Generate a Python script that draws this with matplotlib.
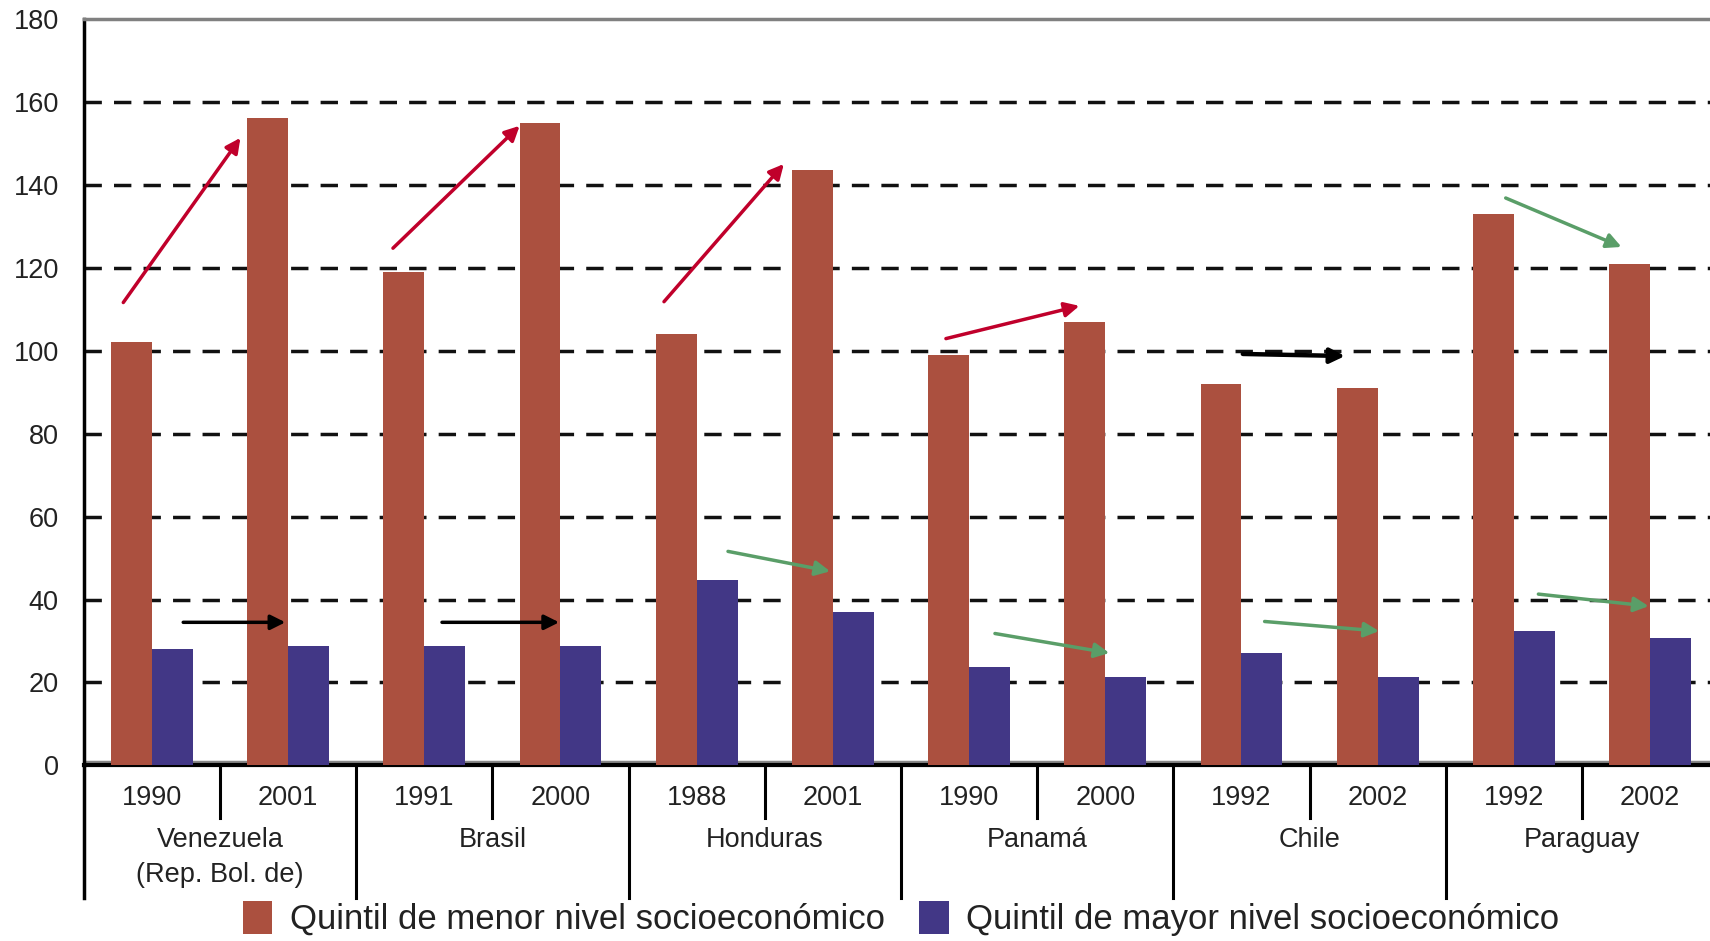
import numpy as np
import matplotlib.pyplot as plt
from matplotlib.transforms import blended_transform_factory

plt.rcParams['font.family'] = ['Liberation Sans', 'DejaVu Sans']

# datos
countries = ['Venezuela\n(Rep. Bol. de)', 'Brasil', 'Honduras', 'Panamá', 'Chile', 'Paraguay']
years = ['1990', '2001', '1991', '2000', '1988', '2001', '1990', '2000', '1992', '2002', '1992', '2002']
menor = [102, 156, 119, 155, 104, 143.5, 99, 107, 92, 91, 133, 121]
mayor = [28, 28.7, 28.7, 28.7, 44.7, 37, 23.7, 21.3, 27, 21.3, 32.4, 30.8]
labels = ['Quintil de menor nivel socioeconómico', 'Quintil de mayor nivel socioeconómico']

# flechas: x inicio, y inicio, x fin, y fin (unidades de datos), color
arrows = [
    (-0.21, 111.6, 0.65, 151.3, '#C0002B'),
    (1.77, 124.7, 2.70, 154.2, '#C0002B'),
    (3.76, 111.8, 4.64, 145.0, '#C0002B'),
    (5.83, 102.9, 6.81, 110.8, '#C0002B'),
    (8.01, 99.2, 8.76, 98.7, 'black'),
    (0.23, 34.5, 0.98, 34.5, 'black'),
    (2.13, 34.5, 2.99, 34.5, 'black'),
    (9.94, 136.8, 10.79, 125.0, '#5A9E68'),
    (4.23, 51.6, 4.98, 46.8, '#5A9E68'),
    (6.19, 31.8, 7.03, 27.1, '#5A9E68'),
    (8.17, 34.7, 9.01, 32.4, '#5A9E68'),
    (10.18, 41.3, 10.99, 38.4, '#5A9E68'),
]

red = '#AB503F'
blue = '#423786'

fig = plt.figure(figsize=(17.1, 9.41), dpi=100)
ax = fig.add_axes([0.049, 0.1866, 0.951, 0.7934])

x = np.arange(len(years))
w = 0.3
ax.bar(x - 0.15, menor, w, color=red, label=labels[0], zorder=3)
ax.bar(x + 0.15, mayor, w, color=blue, label=labels[1], zorder=3)

for t in range(20, 180, 20):
    ax.axhline(t, color='#111111', lw=2.5, ls=(0, (5, 3.5)), zorder=1)
ax.axhline(0.8, color='#888888', lw=2.5, zorder=2)

ax.set_xlim(-0.5, 11.44)
ax.set_ylim(0, 180)
ax.set_yticks(range(0, 181, 20))
ax.tick_params(axis='y', length=0, pad=18, labelsize=19.5, labelcolor='#222222')
ax.set_xticks([])

ax.spines['right'].set_visible(False)
ax.spines['top'].set_color('#808080')
ax.spines['top'].set_linewidth(2.5)
ax.spines['left'].set_linewidth(2.5)
ax.spines['bottom'].set_linewidth(3)

for x0, y0, x1, y1, c in arrows:
    lw = 3.2 if c == 'black' and y0 > 90 else 2.5
    ax.annotate('', xy=(x1, y1), xytext=(x0, y0),
                arrowprops=dict(arrowstyle='-|>', color=c, lw=lw,
                                mutation_scale=22, shrinkA=0, shrinkB=0),
                zorder=5)

# eje de categorias de dos niveles
tr = blended_transform_factory(ax.transData, ax.transAxes)
for i, yr in enumerate(years):
    ax.text(i, -0.044, yr, transform=tr, ha='center', va='center',
            fontsize=19.5, color='#222222')
    if i % 2 == 1 and i < len(years) - 1:
        ax.plot([i + 0.5, i + 0.5], [0, -0.177], transform=tr, color='black',
                lw=2.2, clip_on=False)
    elif i % 2 == 0:
        ax.plot([i + 0.5, i + 0.5], [0, -0.07], transform=tr, color='black',
                lw=2.2, clip_on=False)
ax.plot([-0.5, -0.5], [0, -0.177], transform=tr, color='black', lw=2.5, clip_on=False)

for j, name in enumerate(countries):
    ax.text(2 * j + 0.5, -0.082, name, transform=tr, ha='center', va='top',
            fontsize=19.5, color='#222222', linespacing=1.45)

fig.legend(loc='center', bbox_to_anchor=(0.527, 0.024), ncol=2, frameon=False,
           fontsize=25, handlelength=0.85, handleheight=1.1, handletextpad=0.5,
           columnspacing=1.0, labelcolor='#222222')

fig.savefig('out.png', dpi=100)
